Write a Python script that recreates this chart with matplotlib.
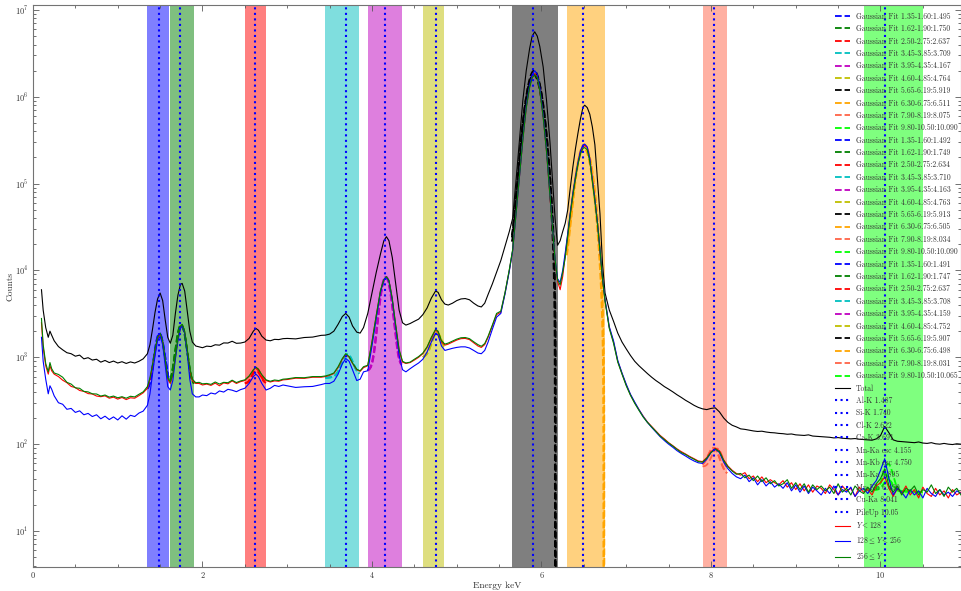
import numpy as np
import matplotlib
matplotlib.use("Agg")
import matplotlib.pyplot as plt

plt.rcParams['font.family'] = ['cmr10', 'DejaVu Serif']
plt.rcParams['mathtext.fontset'] = 'cm'
plt.rcParams['axes.formatter.use_mathtext'] = True

# ---------------- data ----------------
energy = [
    # low-energy continuum
    0.10, 0.12, 0.15, 0.18, 0.20, 0.22, 0.25, 0.30, 0.35, 0.40, 0.45, 0.50, 0.55, 0.60,
    0.65, 0.70, 0.75, 0.80, 0.85, 0.90, 0.95, 1.00, 1.05, 1.10, 1.15, 1.20, 1.25, 1.30,
    # Al / Si
    1.35, 1.38, 1.41, 1.44, 1.47, 1.50, 1.53, 1.56, 1.59, 1.62, 1.65, 1.68, 1.71, 1.74,
    1.76, 1.79, 1.82, 1.85, 1.88, 1.92,
    # continuum
    1.96, 2.00, 2.05, 2.10, 2.15, 2.20, 2.25, 2.30, 2.35, 2.40, 2.45,
    # Cl
    2.50, 2.55, 2.60, 2.63, 2.66, 2.70, 2.75, 2.80, 2.85, 2.90, 2.95,
    # continuum
    3.00, 3.10, 3.20, 3.30, 3.40,
    # Ca
    3.45, 3.50, 3.55, 3.60, 3.65, 3.69, 3.73, 3.77, 3.82, 3.86, 3.90,
    # Mn-Ka escape
    3.95, 4.00, 4.05, 4.10, 4.14, 4.17, 4.20, 4.24, 4.28, 4.32, 4.36, 4.40,
    # Mn-Kb escape and shoulder
    4.45, 4.50, 4.55, 4.60, 4.65, 4.70, 4.75, 4.78, 4.82, 4.86, 4.90, 4.95, 5.00, 5.05,
    5.10, 5.15, 5.20, 5.25, 5.29, 5.33, 5.37, 5.42, 5.47,
    # Mn-Ka
    5.52, 5.57, 5.62, 5.66, 5.70, 5.74, 5.78, 5.82, 5.86, 5.89, 5.92, 5.95, 5.98, 6.02,
    6.06, 6.10, 6.13, 6.16, 6.19, 6.22, 6.25,
    # Mn-Kb
    6.28, 6.31, 6.34, 6.37, 6.40, 6.43, 6.46, 6.49, 6.51, 6.54, 6.57, 6.60, 6.63, 6.66,
    6.69, 6.72, 6.75, 6.80,
    # tail
    6.85, 6.90, 6.95, 7.00, 7.05, 7.10, 7.15, 7.20, 7.25, 7.30,
    7.35, 7.40, 7.45, 7.50, 7.55, 7.60, 7.65, 7.70, 7.75, 7.80,
    7.85, 7.90, 7.95, 8.00, 8.05, 8.10, 8.15, 8.20, 8.25, 8.30,
    8.35, 8.40, 8.45, 8.50, 8.55, 8.60, 8.65, 8.70, 8.75, 8.80,
    8.85, 8.90, 8.95, 9.00, 9.05, 9.10, 9.15, 9.20, 9.25, 9.30,
    9.35, 9.40, 9.45, 9.50, 9.55, 9.60, 9.65, 9.70, 9.75, 9.80,
    9.85, 9.90, 9.95, 10.00, 10.05, 10.10, 10.15, 10.20, 10.25, 10.30,
    10.35, 10.40, 10.45, 10.50, 10.55, 10.60, 10.65, 10.70, 10.75, 10.80,
    10.85, 10.90, 10.95,
]

counts_total = [
    6000, 3500, 2200, 1700, 2000, 1800, 1550, 1330, 1220, 1130, 1100, 1030, 1060, 960,
    990, 930, 950, 880, 920, 870, 905, 860, 890, 850, 885, 860, 900, 960,
    1100, 1400, 2100, 3300, 4700, 5500, 4500, 2700, 1700, 1450, 1800, 3200, 5200, 6900,
    7100, 5800, 3400, 2000, 1500, 1350,
    1320, 1290, 1345, 1330, 1395, 1380, 1465, 1460, 1530, 1450, 1460,
    1500, 1650, 2000, 2150, 2050, 1750, 1580, 1550, 1610, 1600, 1640,
    1650, 1630, 1690, 1710, 1790,
    1800, 1850, 2000, 2400, 2950, 3200, 2900, 2300, 1950, 1900, 2200,
    3200, 5500, 9500, 15500, 22000, 24500, 22000, 14000, 7000, 3500, 2500, 2350,
    2450, 2600, 2750, 3100, 3700, 4800, 5800, 5600, 4600, 4100, 4000, 4200, 4500, 4700,
    4750, 4600, 4200, 3900, 3800, 4200, 5300, 7000, 9500,
    13000, 19000, 28000, 40000, 110000, 320000, 910000, 2.0e6, 3.6e6, 5.0e6, 5.6e6, 5.0e6, 3.8e6, 2.2e6,
    9.0e5, 3.0e5, 1.1e5, 40000, 19500, 22000, 28000,
    35000, 50000, 90000, 1.55e5, 2.5e5, 3.8e5, 5.6e5, 7.6e5, 8.0e5, 7.5e5, 6.3e5, 4.5e5, 2.8e5, 1.1e5,
    4.5e4, 1.2e4, 5500, 3500,
    2600, 1900, 1500, 1250, 1050, 900, 800, 720, 650, 590,
    540, 500, 460, 430, 400, 370, 345, 320, 300, 280,
    265, 255, 250, 258, 262, 235, 200, 178, 165, 158,
    150, 148, 145, 142, 140, 141, 138, 136, 135, 133,
    132, 130, 131, 128, 127, 126, 128, 124, 123, 122,
    121, 120, 118, 119, 117, 116, 115, 116, 114, 113,
    112, 111, 115, 125, 160, 135, 112, 108, 107, 106,
    105, 104, 106, 103, 102, 104, 101, 100, 102, 100,
    99, 101, 100,
]

counts_low = [  # Y < 128
    2500, 1300, 800, 640, 800, 700, 640, 600, 545, 510, 462, 448, 415, 405,
    382, 378, 358, 352, 360, 338, 348, 330, 345, 326, 342, 338, 362, 390,
    440, 560, 800, 1200, 1650, 1850, 1500, 900, 560, 500, 620, 1000, 1600, 2200,
    2350, 1950, 1200, 720, 540, 500,
    500, 480, 492, 475, 505, 470, 508, 495, 535, 500, 525,
    540, 600, 710, 760, 720, 620, 540, 520, 535, 530, 550,
    555, 575, 572, 590, 590,
    600, 620, 650, 760, 950, 1080, 1000, 850, 720, 690, 760,
    800, 1500, 3000, 5800, 7800, 8400, 7600, 4600, 2300, 1200, 880, 850,
    870, 930, 1000, 1100, 1300, 1650, 2050, 1950, 1500, 1380, 1420, 1500, 1580, 1640,
    1650, 1600, 1470, 1350, 1300, 1400, 1700, 2300, 3100,
    3300, 5500, 10000, 17000, 45000, 1.2e5, 3.2e5, 7.5e5, 1.3e6, 1.7e6, 1.85e6, 1.7e6, 1.2e6, 5.8e5,
    2.3e5, 7.0e4, 3.0e4, 1.3e4, 7500, 6000, 8500,
    15000, 26000, 45000, 75000, 1.15e5, 1.7e5, 2.3e5, 2.7e5, 2.75e5, 2.6e5, 1.9e5, 1.1e5, 6.5e4, 3.5e4,
    1.7e4, 8000, 4500, 2200,
    1500, 900, 650, 480, 370, 300, 250, 210, 180, 160,
    142, 126, 115, 104, 96, 88, 82, 77, 72, 68,
    64, 63, 70, 82, 90, 84, 66, 56, 50, 46,
    44, 47, 40, 43, 37, 42, 36, 39, 36, 34,
    38, 32, 36, 30, 35, 29, 34, 28, 33, 31,
    27, 34, 30, 26, 33, 29, 31, 25, 32, 28,
    30, 26, 33, 36, 42, 31, 25, 31, 27, 33,
    26, 30, 24, 32, 27, 25, 31, 26, 29, 24,
    30, 26, 28,
]

counts_mid = [  # 128 <= Y < 256
    1700, 900, 560, 380, 470, 430, 360, 300, 288, 252, 258, 232, 242, 218,
    226, 208, 218, 196, 210, 192, 206, 190, 212, 194, 215, 208, 228, 240,
    280, 380, 640, 1050, 1550, 1750, 1400, 800, 460, 420, 540, 950, 1550, 2150,
    2300, 1900, 1100, 560, 380, 350,
    350, 368, 362, 388, 378, 410, 398, 428, 418, 402, 425,
    440, 500, 600, 640, 600, 500, 420, 440, 475, 462, 480,
    470, 450, 458, 462, 485,
    500, 500, 530, 640, 840, 970, 900, 720, 540, 560, 680,
    700, 1350, 2800, 5600, 7700, 8300, 7500, 4500, 2200, 1050, 720, 680,
    740, 800, 860, 950, 1150, 1500, 1900, 1800, 1350, 1200, 1230, 1270, 1300, 1320,
    1320, 1280, 1200, 1120, 1100, 1200, 1500, 2100, 2900,
    3200, 5400, 9800, 17000, 45000, 1.2e5, 3.3e5, 7.8e5, 1.36e6, 1.8e6, 2.0e6, 1.82e6, 1.28e6, 6.1e5,
    2.4e5, 7.3e4, 3.1e4, 1.35e4, 8000, 7300, 10000,
    16000, 27000, 47000, 78000, 1.2e5, 1.75e5, 2.4e5, 2.8e5, 2.85e5, 2.65e5, 1.95e5, 1.12e5, 6.6e4, 3.6e4,
    1.75e4, 8200, 4600, 2250,
    1550, 920, 660, 490, 375, 305, 250, 208, 178, 156,
    138, 122, 110, 100, 92, 84, 78, 73, 68, 64,
    61, 60, 67, 80, 88, 80, 62, 52, 46, 42,
    40, 44, 37, 41, 34, 39, 33, 37, 32, 35,
    31, 36, 29, 34, 28, 33, 27, 32, 29, 26,
    31, 27, 33, 26, 30, 28, 32, 25, 29, 31,
    27, 33, 38, 50, 68, 40, 26, 31, 28, 24,
    30, 26, 29, 24, 31, 27, 25, 30, 26, 28,
    25, 29, 27,
]

counts_high = [  # 256 <= Y
    2800, 1400, 850, 680, 870, 740, 660, 635, 590, 515, 492, 445, 440, 405,
    400, 380, 378, 358, 368, 348, 358, 342, 352, 338, 356, 350, 375, 400,
    460, 580, 820, 1250, 1700, 1900, 1550, 950, 580, 520, 640, 1050, 1650, 2300,
    2400, 2000, 1250, 750, 560, 510,
    515, 495, 500, 488, 520, 492, 515, 510, 545, 512, 535,
    550, 610, 720, 770, 730, 630, 550, 530, 548, 540, 560,
    565, 585, 582, 600, 600,
    610, 630, 660, 780, 970, 1100, 1020, 860, 730, 700, 780,
    810, 1520, 3050, 5900, 7900, 8500, 7700, 4700, 2350, 1230, 900, 860,
    880, 950, 1020, 1120, 1320, 1700, 2100, 2000, 1550, 1420, 1460, 1540, 1620, 1680,
    1690, 1640, 1510, 1400, 1340, 1440, 1750, 2350, 3200,
    3400, 5600, 10200, 17500, 46000, 1.2e5, 3.2e5, 7.4e5, 1.28e6, 1.65e6, 1.8e6, 1.66e6, 1.18e6, 5.8e5,
    2.3e5, 7.2e4, 3.1e4, 1.35e4, 7800, 6800, 9500,
    14000, 25000, 44000, 73000, 1.12e5, 1.65e5, 2.2e5, 2.55e5, 2.6e5, 2.45e5, 1.8e5, 1.05e5, 6.2e4, 3.4e4,
    1.7e4, 8000, 4400, 2150,
    1450, 880, 640, 470, 365, 295, 245, 205, 178, 158,
    140, 124, 113, 103, 95, 87, 80, 76, 71, 67,
    63, 62, 69, 80, 88, 82, 65, 55, 49, 45,
    46, 41, 44, 38, 43, 37, 41, 35, 38, 33,
    35, 39, 31, 36, 30, 35, 28, 34, 30, 33,
    29, 32, 27, 35, 28, 31, 26, 33, 29, 27,
    32, 28, 35, 40, 52, 33, 28, 33, 26, 31,
    29, 33, 26, 30, 28, 34, 27, 30, 25, 32,
    28, 31, 26,
]

# fit windows and colours
band_lo = [1.35, 1.62, 2.50, 3.45, 3.95, 4.60, 5.65, 6.30, 7.90, 9.80]
band_hi = [1.60, 1.90, 2.75, 3.85, 4.35, 4.85, 6.19, 6.75, 8.19, 10.50]
band_colors = ['b', 'g', 'r', 'c', 'm', 'y', 'k', 'orange', 'tomato', 'lime']

# Gaussian fit results per series: centre, amplitude, sigma, background at window edges
fit_center_low = [1.495, 1.750, 2.637, 3.709, 4.167, 4.764, 5.919, 6.511, 8.075, 10.090]
fit_amp_low = [1400, 1850, 240, 470, 7700, 800, 1.85e6, 2.7e5, 40, 10]
fit_center_mid = [1.492, 1.749, 2.634, 3.710, 4.163, 4.763, 5.913, 6.505, 8.034, 10.090]
fit_amp_mid = [1450, 1900, 200, 480, 7600, 750, 2.0e6, 2.8e5, 40, 30]
fit_center_high = [1.491, 1.747, 2.637, 3.708, 4.159, 4.752, 5.907, 6.498, 8.031, 10.065]
fit_amp_high = [1420, 1900, 240, 480, 7700, 800, 1.8e6, 2.55e5, 40, 15]
fit_sigma = [0.048, 0.050, 0.045, 0.060, 0.058, 0.050, 0.080, 0.078, 0.060, 0.050]
fit_bg_left = [420, 480, 500, 580, 700, 1000, 15000, 8000, 55, 30]
fit_bg_right = [460, 480, 500, 620, 780, 1200, -15000, -3500, 45, 28]

element_names = ['Al-K', 'Si-K', 'Cl-K', 'Ca-K', 'Mn-Ka esc', 'Mn-Kb esc',
                 'Mn-Ka', 'Mn-Kb', 'Cu-Ka', 'PileUp']
element_energy = [1.487, 1.740, 2.622, 3.691, 4.155, 4.750, 5.895, 6.490, 8.041, 10.05]
element_text = ['1.487', '1.740', '2.622', '3.691', '4.155', '4.750',
                '5.895', '6.490', '8.041', '10.05']

series_labels = [r'$Y < 128$', r'$128 \leq Y < 256$', r'$256 \leq Y$']
series_colors = ['r', 'b', 'g']

y_major_ticks = [1e1, 1e2, 1e3, 1e4, 1e5, 1e6, 1e7]

# ---------------- plot ----------------
fig = plt.figure(figsize=(9.61, 5.91), dpi=100)
ax = fig.add_axes([33 / 961, 24 / 591, 928 / 961, 562 / 591])
ax.set_yscale('log')

for lo, hi, col in zip(band_lo, band_hi, band_colors):
    ax.axvspan(lo, hi, color=col, alpha=0.5, lw=0, zorder=0)

fit_handles = []
for centers, amps in [(fit_center_low, fit_amp_low), (fit_center_mid, fit_amp_mid),
                      (fit_center_high, fit_amp_high)]:
    for i in range(len(band_lo)):
        xs = np.linspace(band_lo[i], band_hi[i], 200)
        frac = (xs - band_lo[i]) / (band_hi[i] - band_lo[i])
        bg = fit_bg_left[i] + (fit_bg_right[i] - fit_bg_left[i]) * frac
        ys = amps[i] * np.exp(-0.5 * ((xs - centers[i]) / fit_sigma[i]) ** 2) + bg
        ys = np.where(ys > 0, ys, 1e-3)
        lab = f'Gaussian Fit {band_lo[i]:.2f}-{band_hi[i]:.2f}:{centers[i]:.3f}'
        h, = ax.plot(xs, ys, ls='--', color=band_colors[i], lw=1.3, label=lab, zorder=1.5)
        fit_handles.append(h)

h_total, = ax.plot(energy, counts_total, color='k', lw=0.8, label='Total', zorder=2)
series_handles = []
for vals, col, lab in zip([counts_low, counts_mid, counts_high], series_colors, series_labels):
    h, = ax.plot(energy, vals, color=col, lw=0.8, label=lab, zorder=2)
    series_handles.append(h)

elem_handles = []
for name, e, txt in zip(element_names, element_energy, element_text):
    h = ax.axvline(e, color='b', ls=':', lw=1.5, label=f'{name} {txt}', zorder=4)
    elem_handles.append(h)

ax.set_xlim(0, 10.95)
ax.set_ylim(3.85, 1.14e7)
ax.set_yticks(y_major_ticks)
ax.set_xticks([0, 2, 4, 6, 8, 10])
ax.set_xticks(np.arange(0, 11, 0.5), minor=True)
ax.tick_params(which='both', direction='in', top=True, right=True, labelsize=6,
               colors='0.35', labelcolor='0.2', width=0.6)
ax.tick_params(which='major', length=4)
ax.tick_params(which='minor', length=2)
ax.tick_params(axis='x', which='both', pad=2)
for s in ax.spines.values():
    s.set_color('0.45')
    s.set_linewidth(0.8)

ax.set_xlabel('Energy keV', fontsize=6.8, color='0.2', labelpad=1)
ax.set_ylabel('Counts', fontsize=6.8, color='0.2', labelpad=0)

handles = fit_handles + [h_total] + elem_handles + series_handles
leg = ax.legend(handles=handles, labels=[h.get_label() for h in handles],
                loc='upper left', bbox_to_anchor=(0.866, 0.983),
                bbox_transform=fig.transFigure, frameon=False, fontsize=5.5,
                labelspacing=0.52, handlelength=2.0, handletextpad=0.8,
                borderaxespad=0, borderpad=0.3)
for t in leg.get_texts():
    t.set_color('0.2')

fig.savefig('out.png', dpi=100)
